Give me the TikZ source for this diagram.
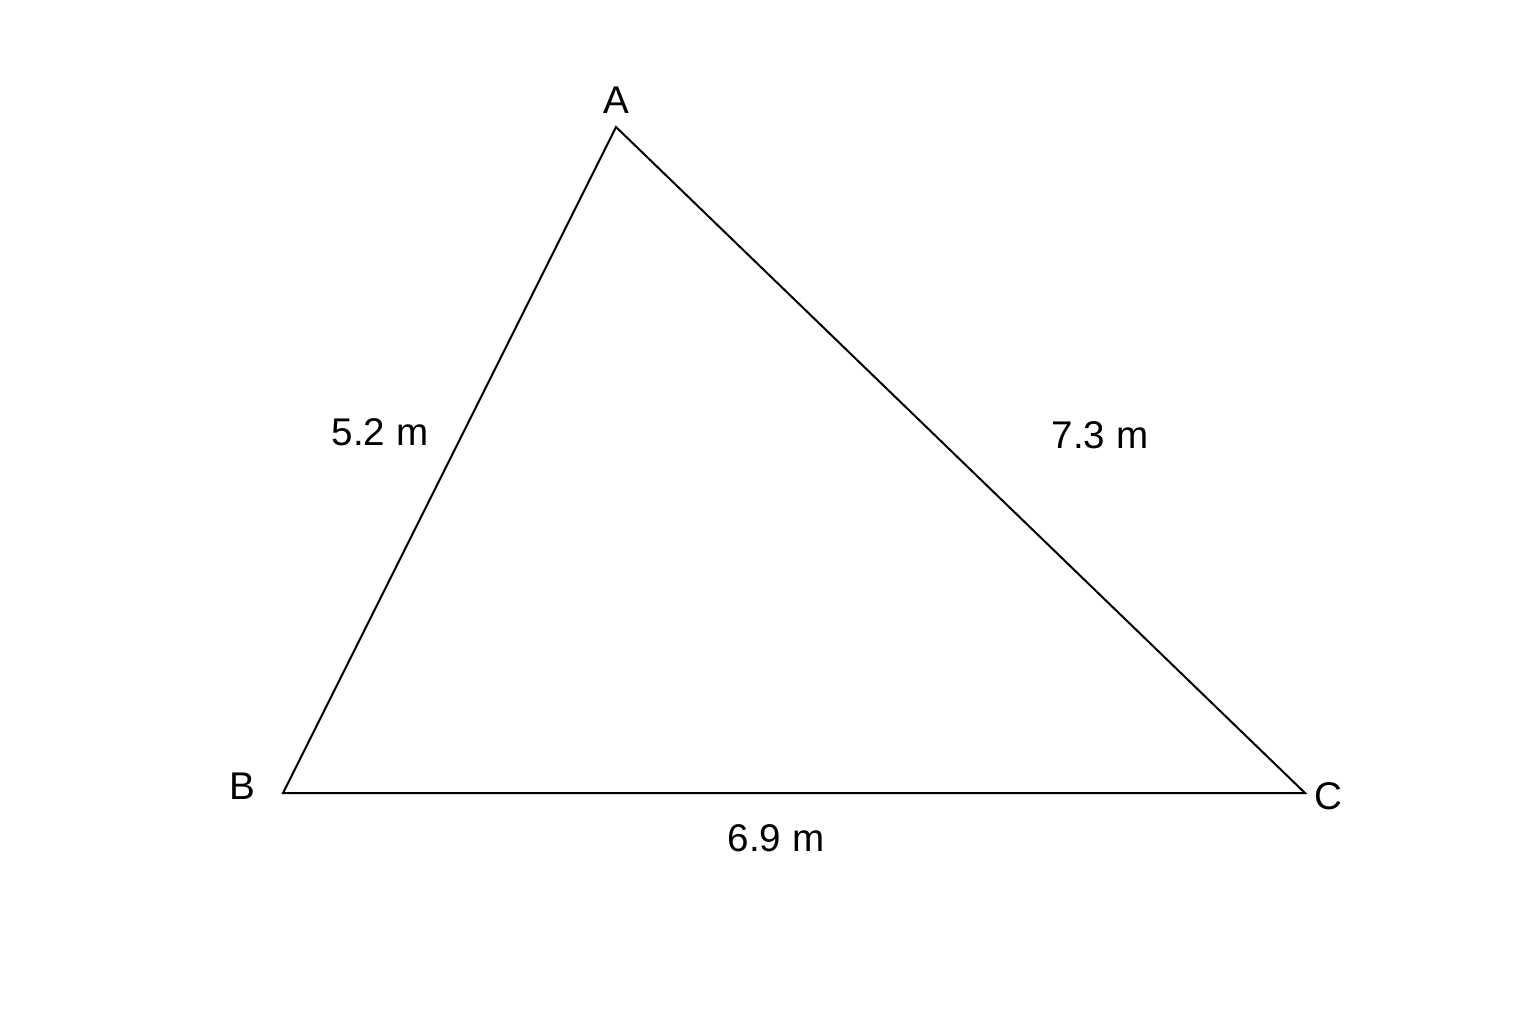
\documentclass[tikz,border=0pt]{standalone}
\usepackage{fontspec}
\setmainfont{Liberation Sans}
\begin{document}
\begin{tikzpicture}[x=0.5pt,y=-0.5pt,
  lbl/.style={font=\fontsize{19.3}{23}\selectfont, inner sep=0pt},
  side/.style={draw=black, line width=1pt, line join=miter}]
\useasboundingbox[fill=white] (0,0) rectangle (1536,1024);
\coordinate (A) at (616,127);
\coordinate (B) at (283,793);
\coordinate (C) at (1305,793);
\draw[side] (A) -- (B) -- (C) -- cycle;
\node[lbl] (la) at (616,100) {A};
\node[lbl] (lb) at (242,786) {B};
\node[lbl] (lc) at (1328,796) {C};
\node[lbl] (ab) at (380,432) {5.2 m};
\node[lbl] (ac) at (1100,435) {7.3 m};
\node[lbl] (bc) at (776,838) {6.9 m};
\end{tikzpicture}
\end{document}
